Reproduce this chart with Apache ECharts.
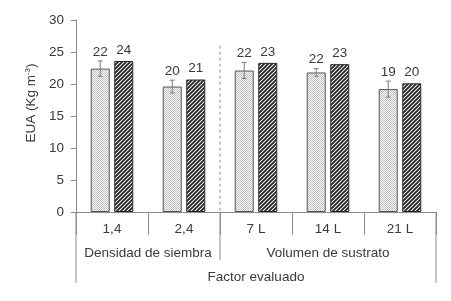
<!DOCTYPE html>
<html>
<head>
<meta charset="utf-8">
<script src="https://cdn.jsdelivr.net/npm/echarts@6/dist/echarts.min.js"></script>
<style>
  html, body { margin: 0; padding: 0; background: #fff; }
  #chart { width: 451px; height: 301px; }
</style>
</head>
<body>
<div id="chart"></div>
<script>
// data
const categories = ['1,4', '2,4', '7 L', '14 L', '21 L'];
const groups = [
  { name: 'Densidad de siembra', from: 0, to: 1 },
  { name: 'Volumen de sustrato', from: 2, to: 4 }
];
const outerTitle = 'Factor evaluado';
const yTitle = 'EUA (Kg m{sup|-3})';

const valuesA = [22.4, 19.6, 22.1, 21.8, 19.2];
const errorsA = [1.2, 1.0, 1.25, 0.6, 1.25];
const valuesB = [23.6, 20.7, 23.3, 23.1, 20.1];

const TEXT = '#3a3a3a';
const AXIS = '#8c8c8c';
const FONT = 'Liberation Sans, Arial, sans-serif';
const FS = 13.5;
const BAR_W = 19;
const BAR_GAP = '24%';

// bar fill patterns
function dotPattern() {
  const c = document.createElement('canvas');
  c.width = c.height = 2;
  const g = c.getContext('2d');
  g.fillStyle = '#ffffff';
  g.fillRect(0, 0, 2, 2);
  g.fillStyle = '#bdbdbd';
  g.fillRect(0, 0, 1, 1);
  g.fillRect(1, 1, 1, 1);
  return c;
}

function hatchPattern() {
  const c = document.createElement('canvas');
  c.width = c.height = 4;
  const g = c.getContext('2d');
  g.fillStyle = '#ffffff';
  g.fillRect(0, 0, 4, 4);
  g.strokeStyle = '#262626';
  g.lineWidth = 1.9;
  g.beginPath();
  g.moveTo(-1, 5); g.lineTo(5, -1);
  g.moveTo(-3, 3); g.lineTo(3, -3);
  g.moveTo(1, 7); g.lineTo(7, 1);
  g.stroke();
  return c;
}

const chart = echarts.init(document.getElementById('chart'));

const option = {
  animation: false,
  textStyle: { fontFamily: FONT, color: TEXT },
  grid: { left: 76, right: 15, top: 20, bottom: 89 },
  xAxis: {
    type: 'category',
    data: categories,
    axisLine: { lineStyle: { color: AXIS } },
    axisTick: { show: true, length: 23, interval: 0, lineStyle: { color: AXIS } },
    axisLabel: { color: TEXT, fontSize: FS, margin: 10, fontFamily: FONT }
  },
  yAxis: {
    type: 'value',
    min: 0,
    max: 30,
    interval: 5,
    splitLine: { show: false },
    axisLine: { show: true, lineStyle: { color: AXIS } },
    axisTick: { show: true, length: 5, lineStyle: { color: AXIS } },
    axisLabel: { color: TEXT, fontSize: FS, margin: 12, fontFamily: FONT }
  },
  series: [
    {
      name: 'A',
      type: 'bar',
      data: valuesA,
      barWidth: BAR_W,
      barGap: BAR_GAP,
      itemStyle: {
        color: { image: dotPattern(), repeat: 'repeat' },
        borderColor: '#555555',
        borderWidth: 1
      }
    },
    {
      name: 'B',
      type: 'bar',
      data: valuesB,
      barWidth: BAR_W,
      barGap: BAR_GAP,
      itemStyle: {
        color: { image: hatchPattern(), repeat: 'repeat' },
        borderColor: '#262626',
        borderWidth: 1
      },
      label: {
        show: true,
        position: 'top',
        distance: 4,
        fontSize: FS,
        color: TEXT,
        fontFamily: FONT,
        formatter: p => Math.round(p.value)
      }
    },
    {
      // error bars + labels for series A
      name: 'errA',
      type: 'custom',
      data: valuesA.map((v, i) => [i, v, errorsA[i]]),
      z: 5,
      renderItem: (params, api) => {
        const i = api.value(0);
        const v = api.value(1);
        const e = api.value(2);
        const layout = api.barLayout({ barWidth: BAR_W, barGap: BAR_GAP, count: 2 });
        const dx = layout[0].offsetCenter;
        const hi = api.coord([i, v + e]);
        const lo = api.coord([i, v - e]);
        const x = hi[0] + dx;
        const cap = 2.5;
        const st = { stroke: '#7a7a7a', lineWidth: 1 };
        return {
          type: 'group',
          children: [
            { type: 'line', shape: { x1: x, y1: hi[1], x2: x, y2: lo[1] }, style: st },
            { type: 'line', shape: { x1: x - cap, y1: hi[1], x2: x + cap, y2: hi[1] }, style: st },
            { type: 'line', shape: { x1: x - cap, y1: lo[1], x2: x + cap, y2: lo[1] }, style: st },
            {
              type: 'text',
              x: x,
              y: hi[1] - 2,
              style: {
                text: String(Math.round(v)),
                font: FS + 'px ' + FONT,
                fill: TEXT,
                align: 'center',
                verticalAlign: 'bottom'
              }
            }
          ]
        };
      }
    }
  ]
};

chart.setOption(option);

// hierarchical x axis labels and separators
const c0 = chart.convertToPixel({ xAxisIndex: 0 }, 0);
const c1 = chart.convertToPixel({ xAxisIndex: 0 }, 1);
const catW = c1 - c0;
const edge = k => c0 - catW / 2 + k * catW;
const y0 = chart.convertToPixel({ yAxisIndex: 0 }, 0);
const yTop = chart.convertToPixel({ yAxisIndex: 0 }, 26);
const lineSt = { stroke: AXIS, lineWidth: 1 };
const graphics = [];

const leftX = edge(0);
const rightX = edge(categories.length);
graphics.push({ type: 'line', shape: { x1: leftX, y1: y0, x2: leftX, y2: y0 + 71 }, style: lineSt });
graphics.push({ type: 'line', shape: { x1: rightX, y1: y0, x2: rightX, y2: y0 + 71 }, style: lineSt });

groups.forEach((g, gi) => {
  const a = edge(g.from);
  const b = edge(g.to + 1);
  graphics.push({
    type: 'text',
    x: (a + b) / 2,
    y: y0 + 41,
    style: { text: g.name, font: FS + 'px ' + FONT, fill: TEXT, align: 'center', verticalAlign: 'middle' }
  });
  if (gi > 0) {
    graphics.push({ type: 'line', shape: { x1: a, y1: y0, x2: a, y2: y0 + 48 }, style: lineSt });
    graphics.push({
      type: 'line',
      shape: { x1: a, y1: yTop, x2: a, y2: y0 },
      style: { stroke: '#8c8c8c', lineWidth: 1, lineDash: [3, 3] }
    });
  }
});

graphics.push({
  type: 'text',
  x: (leftX + rightX) / 2,
  y: y0 + 65,
  style: { text: outerTitle, font: FS + 'px ' + FONT, fill: TEXT, align: 'center', verticalAlign: 'middle' }
});

graphics.push({
  type: 'text',
  x: 31,
  y: 103,
  rotation: Math.PI / 2,
  style: {
    text: yTitle,
    font: FS + 'px ' + FONT,
    fill: TEXT,
    align: 'center',
    verticalAlign: 'middle',
    rich: {
      sup: { fontSize: 8, verticalAlign: 'top', padding: [0, 0, 6, 0], fill: TEXT, fontFamily: FONT }
    }
  }
});

chart.setOption({ graphic: graphics });
</script>
</body>
</html>
